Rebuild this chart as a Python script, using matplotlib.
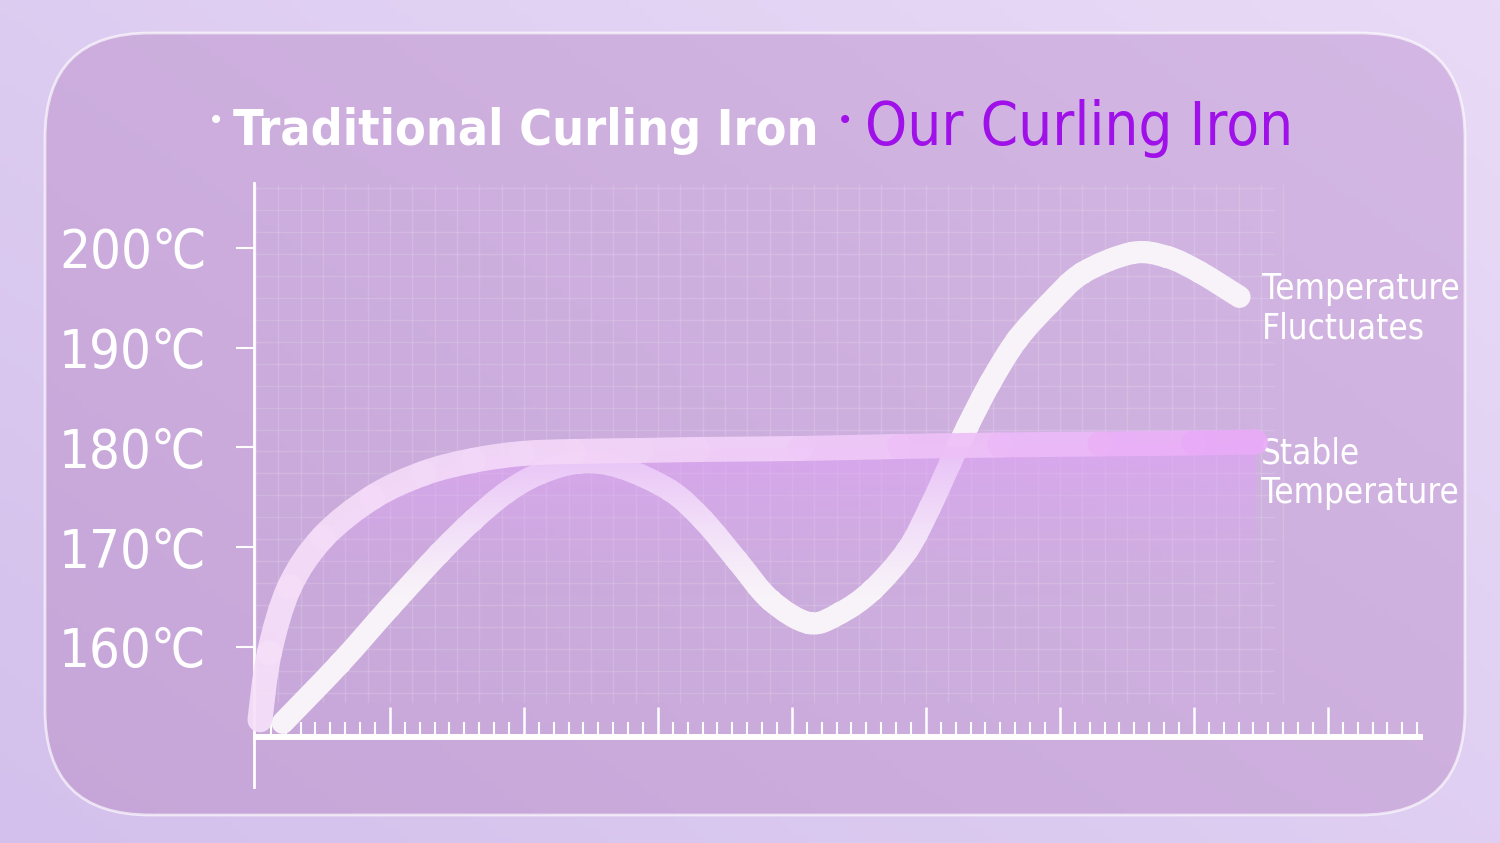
import numpy as np
import matplotlib
matplotlib.use("Agg")
import matplotlib.pyplot as plt
from matplotlib import font_manager as fm
from matplotlib.patches import FancyBboxPatch, Polygon, PathPatch
from matplotlib.collections import PathCollection
from matplotlib.path import Path
from matplotlib.colors import LinearSegmentedColormap, to_rgb
from matplotlib.ticker import FixedLocator

# dados (tempo em unidades do eixo, temperatura em graus C)
trad_t = [0.20, 0.63, 1.00, 1.37, 1.62, 1.87, 2.12, 2.42, 2.72, 3.09, 3.34, 3.59,
          3.84, 4.13, 4.36, 4.60, 4.86, 5.03, 5.18, 5.31, 5.48, 5.68, 5.92, 6.17,
          6.54, 6.80, 7.04, 7.34]
trad_temp = [152.4, 158.4, 164.0, 169.4, 172.7, 175.5, 177.4, 178.5, 178.0, 175.7,
             172.7, 168.7, 164.7, 162.4, 163.4, 165.7, 169.7, 174.0, 178.4, 182.1,
             186.5, 190.8, 194.4, 197.5, 199.5, 199.1, 197.6, 195.1]

our_t = [0.03, 0.10, 0.25, 0.50, 0.87, 1.25, 1.62, 1.99, 2.37, 2.87, 3.30, 4.06,
         4.80, 5.55, 6.30, 7.00, 7.46]
our_temp = [152.7, 159.4, 166.0, 171.0, 175.0, 177.4, 178.7, 179.4, 179.6, 179.7,
            179.8, 179.9, 180.1, 180.25, 180.35, 180.45, 180.55]

y_ticks = [160, 170, 180, 190, 200]
y_labels = ["160℃", "170℃", "180℃", "190℃", "200℃"]
x_major = [1, 2, 3, 4, 5, 6, 7, 8]

legend_names = ["Traditional Curling Iron", "Our Curling Iron"]
note_trad = "Temperature\nFluctuates"
note_our = "Stable\nTemperature"

# fontes
names = {f.name for f in fm.fontManager.ttflist}
if "Liberation Sans Narrow" in names:
    narrow = ["Liberation Sans Narrow", "DejaVu Sans"]
    stretch = "normal"
else:
    narrow = ["DejaVu Sans"]
    stretch = "condensed"


def bezier_segments(xs, ys):
    # segmentos cubicos (Catmull-Rom) passando pelos pontos lidos
    p = np.column_stack([xs, ys])
    n = len(p)
    out = []
    for i in range(n - 1):
        a = p[max(i - 1, 0)]
        b = p[i]
        c = p[i + 1]
        d = p[min(i + 2, n - 1)]
        c1 = b + (c - a) / 6
        c2 = c - (d - b) / 6
        out.append(Path([b, c1, c2, c], [Path.MOVETO, Path.CURVE4, Path.CURVE4, Path.CURVE4]))
    return out


W, H = 1500, 843
fig = plt.figure(figsize=(W / 100, H / 100), dpi=100)

# fundo e painel (coordenadas em pixels)
bg = fig.add_axes([0, 0, 1, 1])
bg.set_xlim(0, W)
bg.set_ylim(H, 0)
bg.axis("off")
gx, gy = np.meshgrid(np.linspace(0, 1, 200), np.linspace(0, 1, 120))
g = np.clip(0.55 * gx + 0.45 * (1 - gy), 0, 1)
c0 = np.array(to_rgb("#d3c0ec"))
c1 = np.array(to_rgb("#e9dbf7"))
bg.imshow(c0 + (c1 - c0) * g[..., None], extent=(0, W, H, 0), aspect="auto", zorder=0)

panel = FancyBboxPatch((45, 33), 1420, 782, boxstyle="round,pad=0,rounding_size=105",
                       facecolor="none", edgecolor=(1, 1, 1, 0.65), lw=2, zorder=3)
bg.add_patch(panel)
p0 = np.array(to_rgb("#c6a5d8"))
p1 = np.array(to_rgb("#d4b8e4"))
im = bg.imshow(p0 + (p1 - p0) * g[..., None], extent=(0, W, H, 0), aspect="auto", zorder=2)
im.set_clip_path(panel)

# eixo principal em dados
ax = fig.add_axes([0, 0, 1, 1])
ax.patch.set_alpha(0)
ax.set_xlim(-1.910, 9.284)
ax.set_ylim(140.35, 224.86)

# grade de fundo
for gxv in np.arange(0, 7.7, 1 / 6):
    ax.plot([gxv, gxv], [154.5, 206.3], color="white", alpha=0.14, lw=1, zorder=1)
for gyv in np.arange(206.0, 154.0, -2.2):
    ax.plot([0, 7.6], [gyv, gyv], color="white", alpha=0.14, lw=1, zorder=1)

# curva tradicional
trad_path = Path.make_compound_path(*bezier_segments(trad_t, trad_temp))
ax.add_patch(PathPatch(trad_path, facecolor="none", edgecolor="#f8f3f9", lw=16,
                       capstyle="round", joinstyle="round", zorder=4))

# preenchimento com gradiente sob a curva estavel (por cima da curva branca)
fill_col = np.array(to_rgb("#dfa2f6"))
ny = 200
alpha_col = np.clip((np.linspace(181.5, 150, ny) - 165.0) / (181.5 - 165.0), 0, 1) ** 1.2 * 0.7
rgba = np.zeros((ny, 2, 4))
rgba[..., :3] = fill_col
rgba[..., 3] = alpha_col[:, None]
fim = ax.imshow(rgba, extent=(0, our_t[-1], 150, 181.5), aspect="auto", zorder=4.5,
                interpolation="bilinear")
our_segs = bezier_segments(our_t, our_temp)
fill_verts = [v for s in our_segs for v in s.vertices[1:]]
fill_verts = [our_segs[0].vertices[0]] + fill_verts + [(our_t[-1], 150), (our_t[0], 150)]
poly = Polygon(fill_verts, closed=True, transform=ax.transData, facecolor="none",
               edgecolor="none")
ax.add_patch(poly)
fim.set_clip_path(poly)

# curva estavel com gradiente de cor
cmap = LinearSegmentedColormap.from_list("our", ["#f6e0f9", "#f1d0f8", "#e9a9f8"])
mid = (np.array(our_t[:-1]) + np.array(our_t[1:])) / 2
pc = PathCollection(our_segs, facecolors="none", edgecolors=cmap(mid / our_t[-1]),
                    linewidths=18, alpha=0.93, zorder=5, transform=ax.transData)
pc.set_capstyle("round")
pc.set_joinstyle("round")
ax.add_collection(pc)

# eixos
for s in ["top", "right"]:
    ax.spines[s].set_visible(False)
ax.spines["left"].set_position(("data", -0.015))
ax.spines["left"].set_bounds(146, 206.5)
ax.spines["left"].set_color("white")
ax.spines["left"].set_linewidth(2)
ax.spines["bottom"].set_position(("data", 151))
ax.spines["bottom"].set_bounds(0, 8.69)
ax.spines["bottom"].set_color("white")
ax.spines["bottom"].set_linewidth(4.3)
ax.spines["bottom"].set_zorder(6)

ax.yaxis.set_major_locator(FixedLocator(y_ticks))
ax.set_yticklabels(y_labels)
ax.tick_params(axis="y", direction="out", length=13, width=1.5, color="white", pad=21,
               labelsize=39, labelcolor="white")
for lab in ax.get_yticklabels():
    lab.set_family(narrow)
    lab.set_stretch(stretch)

minor = [k / 9 for k in range(1, 79) if k % 9 != 0]
ax.xaxis.set_major_locator(FixedLocator(x_major))
ax.xaxis.set_minor_locator(FixedLocator(minor))
ax.set_xticklabels([])
ax.tick_params(axis="x", which="major", direction="in", length=21.5, width=1.8, color="white")
ax.tick_params(axis="x", which="minor", direction="in", length=10.5, width=1.5, color="white")

# legenda no topo
fig.text(216 / W, 1 - 121 / H, "•", color="white", fontsize=20, ha="center", va="center",
         family="DejaVu Sans")
fig.text(233 / W, 1 - 145 / H, legend_names[0], color="white", fontsize=36, ha="left",
         va="baseline", family=narrow, fontstretch=stretch, fontweight="bold")
fig.text(845 / W, 1 - 121 / H, "•", color="#a010e8", fontsize=20, ha="center", va="center",
         family="DejaVu Sans")
fig.text(865 / W, 1 - 145 / H, legend_names[1], color="#a010e8", fontsize=43, ha="left",
         va="baseline", family=narrow, fontstretch=stretch)

# notas laterais
ax.text(7.51, 193.9, note_trad, color="white", fontsize=25, ha="left", va="center",
        linespacing=1.2, family=narrow, fontstretch=stretch)
ax.text(7.50, 177.4, note_our, color="white", fontsize=25, ha="left", va="center",
        linespacing=1.2, family=narrow, fontstretch=stretch)

fig.savefig("out.png", dpi=100)
